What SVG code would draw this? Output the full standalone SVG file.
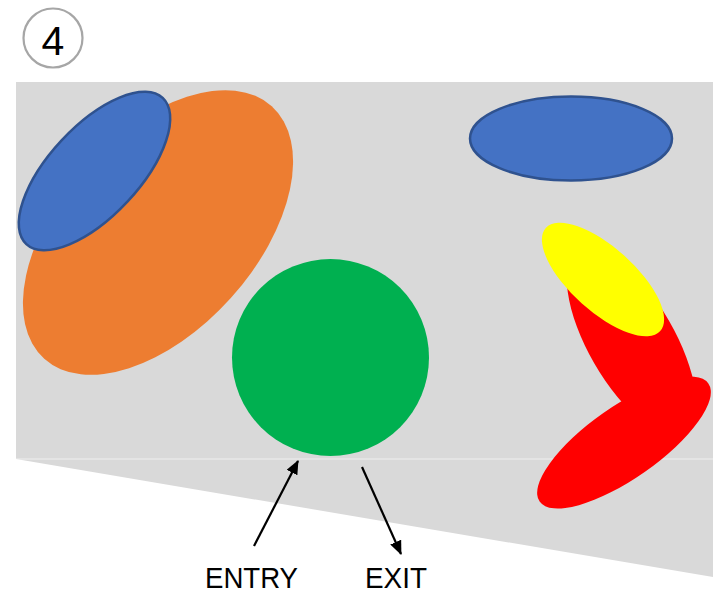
<svg xmlns="http://www.w3.org/2000/svg" width="713" height="595" viewBox="0 0 713 595">
<style>
.lbl{font-family:"Liberation Sans",Arial,sans-serif;fill:#000}
.blue{fill:#4472c4;stroke:#2f528f;stroke-width:2.5}
.conn{stroke:#000;stroke-width:2.2;fill:none}
</style>
<defs>
<marker id="ah" markerUnits="userSpaceOnUse" viewBox="0 0 14 12" markerWidth="14" markerHeight="12" refX="13" refY="6" orient="auto">
<path d="M0,0 L14,6 L0,12 z" fill="#000"/>
</marker>
</defs>
<rect width="713" height="595" fill="#fff"/>
<g id="badge">
<circle cx="53" cy="38" r="29.5" fill="#fff" stroke="#a6a6a6" stroke-width="2.2"/>
<text class="lbl" x="53" y="55" font-size="41" text-anchor="middle">4</text>
</g>
<g id="background">
<polygon points="16,82 713,82 713,577 16,459" fill="#d9d9d9"/>
<line x1="16" y1="459" x2="713" y2="459" stroke="#ffffff" stroke-opacity="0.6" stroke-width="1"/>
</g>
<g id="orange-ellipse">
<ellipse cx="158" cy="232.5" rx="170" ry="98" transform="rotate(-48 158 232.5)" fill="#ed7d31"/>
</g>
<g id="blue-ellipse-left">
<ellipse cx="94.5" cy="171" rx="100" ry="45" transform="rotate(-47 94.5 171)" class="blue"/>
</g>
<g id="green-circle">
<circle cx="330.5" cy="357.5" r="98.5" fill="#00b050"/>
</g>
<g id="blue-ellipse-right">
<ellipse cx="571" cy="138.5" rx="101" ry="42" class="blue"/>
</g>
<g id="red-shape">
<ellipse cx="631.6" cy="342" rx="106" ry="43" transform="rotate(60 631.6 342)" fill="#ff0000"/>
<ellipse cx="624" cy="442.5" rx="103" ry="36" transform="rotate(-35 624 442.5)" fill="#ff0000"/>
</g>
<g id="yellow-ellipse">
<ellipse cx="603" cy="279.5" rx="77" ry="32" transform="rotate(42 603 279.5)" fill="#ffff00"/>
</g>
<g id="connectors">
<line class="conn" x1="254" y1="546" x2="298" y2="461" marker-end="url(#ah)"/>
<line class="conn" x1="362" y1="467" x2="401" y2="554" marker-end="url(#ah)"/>
</g>
<g id="entry-label">
<text class="lbl" x="205" y="588" font-size="30" textLength="93" lengthAdjust="spacingAndGlyphs">ENTRY</text>
</g>
<g id="exit-label">
<text class="lbl" x="365" y="588" font-size="30" textLength="62" lengthAdjust="spacingAndGlyphs">EXIT</text>
</g>
</svg>
